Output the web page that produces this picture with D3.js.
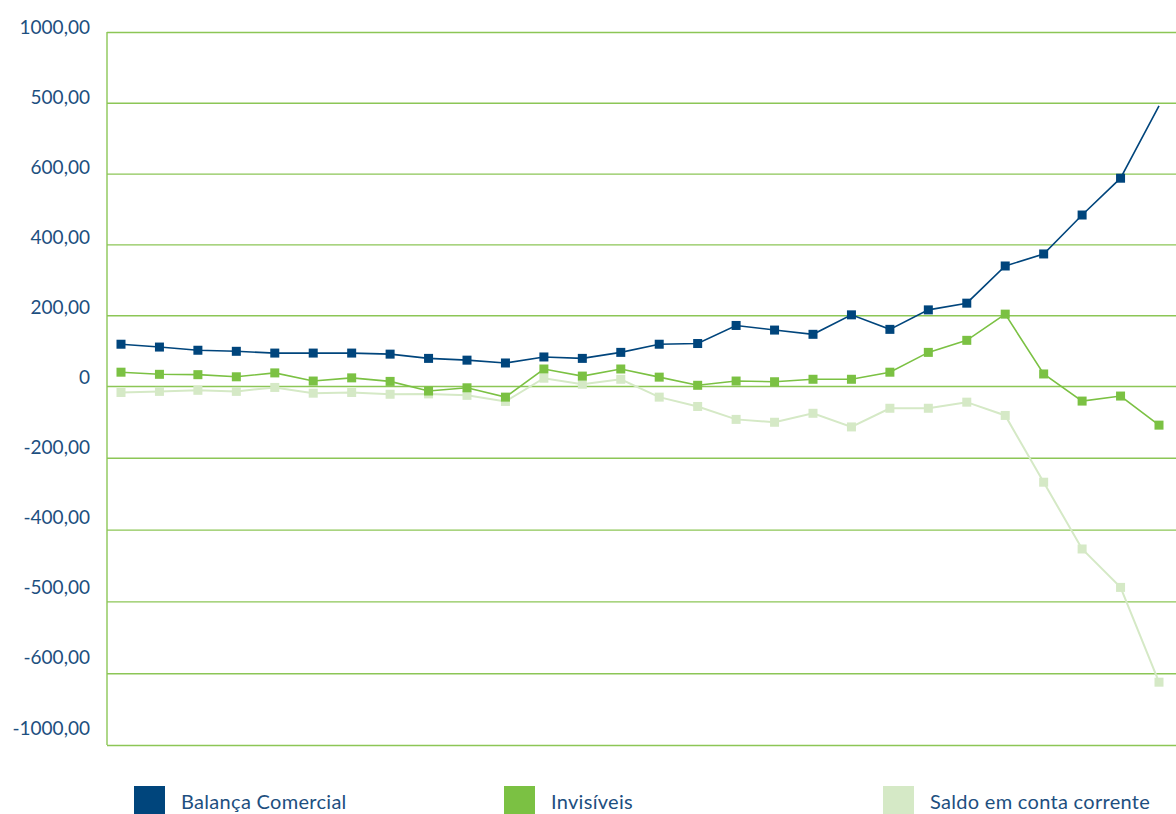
<!DOCTYPE html>
<html>
<head>
<meta charset="utf-8">
<script src="https://cdn.jsdelivr.net/npm/d3@7"></script>
<style>
  html, body { margin: 0; padding: 0; background: #fff; }
  svg { display: block; }
</style>
</head>
<body>
<svg id="chart" width="1176" height="814"></svg>
<script>
// ---- data ----
const categories = ["1","2","3","4","5","6","7","8","9","10","11","12","13","14","15","16","17","18","19","20","21","22","23","24","25","26","27","28"];
const balancaComercial = [118,110,101,98,93,93,93,90,78,73,65,82,78,95,118,120,171,158,146,201,160,215,234,339,373,483,587,791];
const invisiveis = [39,33,32,26,37,14,23,13,-14,-5,-31,48,28,48,25,2,14,12,19,19,39,95,129,203,34,-42,-28,-109];
const saldoContaCorrente = [-18,-15,-12,-15,-4,-20,-18,-23,-22,-26,-43,22,5,19,-31,-57,-93,-101,-76,-114,-62,-62,-45,-82,-268,-454,-561,-825];
const tickValues = [-1000,-800,-600,-400,-200,0,200,400,600,800,1000];
const tickLabels = ["-1000,00","-600,00","-500,00","-400,00","-200,00","0","200,00","400,00","600,00","500,00","1000,00"];
const seriesNames = ["Balança Comercial","Invisíveis","Saldo em conta corrente"];

// ---- setup ----
const svg = d3.select("#chart");
const plot = {left: 107, right: 1176, top: 32, zero: 386, bottom: 745};

const x = d3.scalePoint().domain(categories).range([121, 1159]);
const y = d3.scaleLinear().domain([-1000, 0, 1000]).range([plot.bottom, plot.zero, plot.top]);
const yLabel = d3.scaleLinear().domain([-1000, 1000]).range([728, 27]);

const gridColor = "#8cc656";
const textColor = "#1d4f7f";

// gridlines
const gridAxis = d3.axisLeft(y).tickValues(tickValues).tickSize(-(plot.right - plot.left)).tickFormat("");
const gg = svg.append("g").attr("transform", `translate(${plot.left},0)`).call(gridAxis);
gg.select(".domain").remove();
gg.selectAll(".tick line").attr("stroke", gridColor).attr("stroke-width", 1.4);

// left axis line
svg.append("line")
  .attr("x1", plot.left).attr("x2", plot.left)
  .attr("y1", y(1000)).attr("y2", y(-1000))
  .attr("stroke", gridColor).attr("stroke-width", 1.4);

// tick labels
const labelAxis = d3.axisLeft(yLabel).tickValues(tickValues).tickSize(0).tickPadding(0)
  .tickFormat((d, i) => tickLabels[i]);
const lg = svg.append("g").attr("transform", `translate(90,0)`).call(labelAxis);
lg.select(".domain").remove();
lg.selectAll("text")
  .attr("fill", textColor)
  .style("font-family", "Lato, 'Open Sans', sans-serif")
  .style("font-size", "19px");

// series
const series = [
  {name: seriesNames[2], values: saldoContaCorrente, color: "#d5e9c6", width: 2, markLast: true},
  {name: seriesNames[1], values: invisiveis, color: "#7bc143", width: 1.6, markLast: true},
  {name: seriesNames[0], values: balancaComercial, color: "#00457c", width: 1.6, markLast: false}
];

const line = d3.line().x((d, i) => x(categories[i])).y(d => y(d));
const ms = 9;

series.forEach(s => {
  svg.append("path")
    .datum(s.values)
    .attr("fill", "none")
    .attr("stroke", s.color)
    .attr("stroke-width", s.width)
    .attr("d", line);
  const pts = s.values.map((v, i) => ({v, i})).filter(p => s.markLast || p.i < s.values.length - 1);
  svg.append("g").selectAll("rect")
    .data(pts)
    .join("rect")
    .attr("x", p => x(categories[p.i]) - ms / 2)
    .attr("y", p => y(p.v) - ms / 2)
    .attr("width", ms)
    .attr("height", ms)
    .attr("fill", s.color);
});

// legend
const legendItems = [
  {name: seriesNames[0], color: "#00457c", x: 134},
  {name: seriesNames[1], color: "#7bc143", x: 504},
  {name: seriesNames[2], color: "#d5e9c6", x: 883}
];
const leg = svg.append("g");
legendItems.forEach(it => {
  leg.append("rect").attr("x", it.x).attr("y", 786).attr("width", 31).attr("height", 31).attr("fill", it.color);
  leg.append("text").attr("x", it.x + 47).attr("y", 809)
    .attr("fill", textColor)
    .style("font-family", "Lato, 'Open Sans', sans-serif")
    .style("font-size", "20px")
    .style("letter-spacing", "0.3px")
    .text(it.name);
});
</script>
</body>
</html>
